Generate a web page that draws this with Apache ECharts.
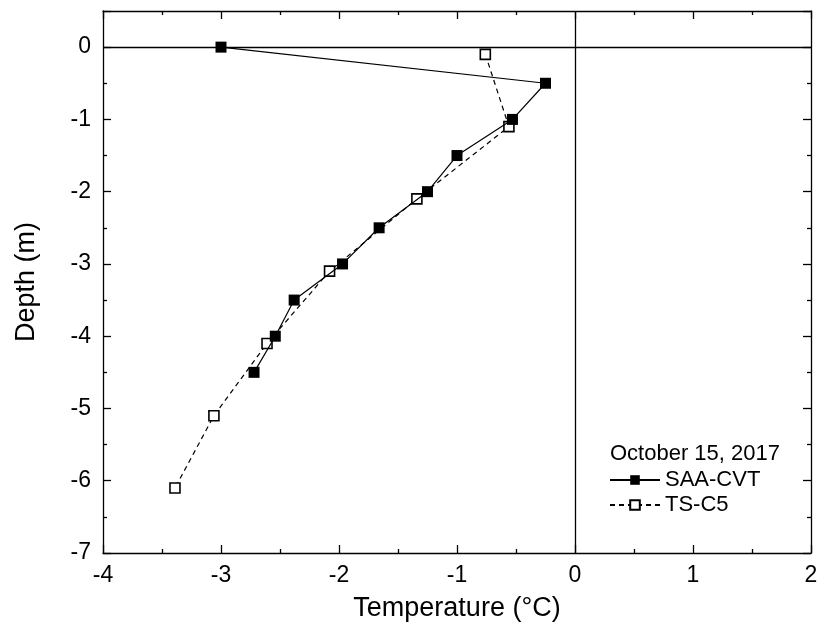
<!DOCTYPE html>
<html>
<head>
<meta charset="utf-8">
<script src="https://cdn.jsdelivr.net/npm/echarts@6/dist/echarts.min.js"></script>
<style>
  html, body { margin: 0; padding: 0; background: #fff; }
  #chart { width: 823px; height: 630px; }
</style>
</head>
<body>
<div id="chart"></div>
<script>
// Temperature profiles with depth, two measurement methods
const saaTemp  = [-3.0, -0.25, -0.53, -1.0, -1.25, -1.66, -1.97, -2.38, -2.54, -2.72];
const saaDepth = [0, -0.5, -1.0, -1.5, -2.0, -2.5, -3.0, -3.5, -4.0, -4.5];

const tsTemp  = [-0.76, -0.56, -1.34, -2.08, -2.61, -3.06, -3.39];
const tsDepth = [-0.1, -1.1, -2.1, -3.1, -4.1, -5.1, -6.1];

const seriesNames = ['SAA-CVT', 'TS-C5'];
const legendTitle = 'October 15, 2017';

const FONT = 'Liberation Sans, Arial, sans-serif';

function pairs(xs, ys) { return xs.map((x, i) => [x, ys[i]]); }

const chart = echarts.init(document.getElementById('chart'), null, { renderer: 'canvas' });

const axisLineStyle = { show: true, onZero: false, lineStyle: { color: '#000', width: 1.3 } };
const tickStyle = { show: true, inside: true, length: 8, lineStyle: { color: '#000', width: 1.3 } };
const minorStyle = { show: true, splitNumber: 2, length: 4, lineStyle: { color: '#000', width: 1.3 } };

chart.setOption({
  animation: false,
  backgroundColor: '#fff',
  grid: { left: 103, right: 12, top: 11, bottom: 77, containLabel: false },
  xAxis: [
    {
      type: 'value', min: -4, max: 2, interval: 1, position: 'bottom',
      axisLine: axisLineStyle, axisTick: tickStyle, minorTick: minorStyle,
      splitLine: { show: false },
      axisLabel: { color: '#000', fontSize: 23, fontFamily: FONT, margin: 11 },
      name: 'Temperature (°C)', nameLocation: 'middle', nameGap: 42,
      nameTextStyle: { color: '#000', fontSize: 27, fontFamily: FONT }
    },
    {
      type: 'value', min: -4, max: 2, interval: 1, position: 'top',
      axisLine: axisLineStyle, axisTick: tickStyle, minorTick: minorStyle,
      splitLine: { show: false }, axisLabel: { show: false }
    }
  ],
  yAxis: [
    {
      type: 'value', min: -7, max: 0.5, interval: 1, position: 'left',
      axisLine: axisLineStyle, axisTick: tickStyle, minorTick: minorStyle,
      splitLine: { show: false },
      axisLabel: { color: '#000', fontSize: 23, fontFamily: FONT, margin: 12, showMaxLabel: false },
      name: 'Depth (m)', nameLocation: 'middle', nameGap: 63, nameRotate: 90,
      nameTextStyle: { color: '#000', fontSize: 27, fontFamily: FONT }
    },
    {
      type: 'value', min: -7, max: 0.5, interval: 1, position: 'right',
      axisLine: axisLineStyle, axisTick: tickStyle, minorTick: minorStyle,
      splitLine: { show: false }, axisLabel: { show: false }
    }
  ],
  title: {
    text: legendTitle, left: 605, top: 438,
    textStyle: { color: '#000', fontSize: 22, fontWeight: 'normal', fontFamily: FONT }
  },
  legend: {
    orient: 'vertical', left: 604, top: 464, itemWidth: 50, itemHeight: 12, itemGap: 3,
    textStyle: { color: '#000', fontSize: 22, fontFamily: FONT, padding: [0, 0, 0, 0] },
    data: seriesNames
  },
  series: [
    {
      name: seriesNames[0], type: 'line', data: pairs(saaTemp, saaDepth),
      symbol: 'rect', symbolSize: 11,
      itemStyle: { color: '#000', borderColor: '#000', borderWidth: 0 },
      lineStyle: { color: '#000', width: 1.2, type: 'solid' },
      z: 5,
      markLine: {
        silent: true, symbol: 'none', label: { show: false },
        lineStyle: { color: '#000', width: 1.3, type: 'solid' },
        data: [{ xAxis: 0 }, { yAxis: 0 }],
        z: 1
      }
    },
    {
      name: seriesNames[1], type: 'line', data: pairs(tsTemp, tsDepth),
      symbol: 'rect', symbolSize: 10,
      itemStyle: { color: '#fff', borderColor: '#000', borderWidth: 1.6 },
      lineStyle: { color: '#000', width: 1.2, type: [5, 4] },
      z: 4
    }
  ]
});
</script>
</body>
</html>
